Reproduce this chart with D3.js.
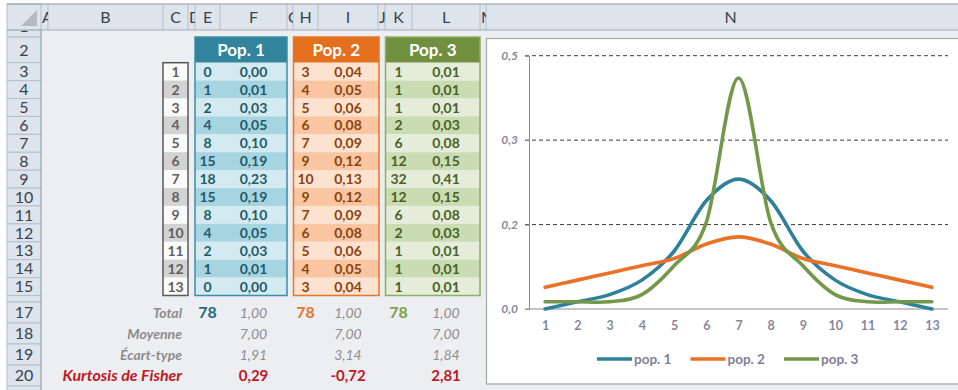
<!DOCTYPE html>
<html>
<head>
<meta charset="utf-8">
<script src="https://cdn.jsdelivr.net/npm/d3@7"></script>
<style>
  body { margin: 0; background: #ffffff; }
  svg { display: block; font-family: Lato, "Open Sans", sans-serif; }
</style>
</head>
<body>
<svg id="sheet" width="958" height="390"></svg>
<script>
// ---- data ----
const categories = [1, 2, 3, 4, 5, 6, 7, 8, 9, 10, 11, 12, 13];
const seriesNames = ["pop. 1", "pop. 2", "pop. 3"];
const headerTitles = ["Pop. 1", "Pop. 2", "Pop. 3"];
const pop1Counts = [0, 1, 2, 4, 8, 15, 18, 15, 8, 4, 2, 1, 0];
const pop2Counts = [3, 4, 5, 6, 7, 9, 10, 9, 7, 6, 5, 4, 3];
const pop3Counts = [1, 1, 1, 2, 6, 12, 32, 12, 6, 2, 1, 1, 1];
// relative frequencies (shown with two decimals in the tables)
const pop1Freq = [0.0000, 0.0128, 0.0256, 0.0513, 0.1026, 0.1923, 0.2308, 0.1923, 0.1026, 0.0513, 0.0256, 0.0128, 0.0000];
const pop2Freq = [0.0385, 0.0513, 0.0641, 0.0769, 0.0897, 0.1154, 0.1282, 0.1154, 0.0897, 0.0769, 0.0641, 0.0513, 0.0385];
const pop3Freq = [0.0128, 0.0128, 0.0128, 0.0256, 0.0769, 0.1538, 0.4103, 0.1538, 0.0769, 0.0256, 0.0128, 0.0128, 0.0128];
const statLabels = ["Total", "Moyenne", "Écart-type", "Kurtosis de Fisher"];
const totals = [78, 78, 78];
const freqTotals = [1.00, 1.00, 1.00];
const means = [7.00, 7.00, 7.00];
const stdDevs = [1.91, 3.14, 1.84];
const kurtosis = [0.29, -0.72, 2.81];
const yTickValues = [0, 0.15, 0.30, 0.45];
const yTickLabels = ["0,0", "0,2", "0,3", "0,5"];
const columnLetters = ["A", "B", "C", "D", "E", "F", "G", "H", "I", "J", "K", "L", "M", "N"];
const rowNumbers = [1, 2, 3, 4, 5, 6, 7, 8, 9, 10, 11, 12, 13, 14, 15, 16, 17, 18, 19, 20, 21];

// ---- styles ----
const palette = [
  { main: "#31849b", text: "#1f5b6b", light: "#d3eaf1", dark: "#a7d4e1", border: "#3a8ea6", total: "#256a80" },
  { main: "#e4701e", text: "#8a4311", light: "#fde2d0", dark: "#fac6a2", border: "#e8762a", total: "#e8752a" },
  { main: "#71903f", text: "#4a6125", light: "#e5edda", dark: "#cadcb2", border: "#8cae62", total: "#7aa14a" }
];
const lineColors = ["#2e809b", "#ea7125", "#73984a"];
const headerFill = "#dde4ec";
const headerLine = "#b4c0cd";
const sheetBg = "#eceef1";

const fr = d3.formatLocale({ decimal: ",", thousands: " ", grouping: [3], currency: ["", " €"], minus: "-" });
const f2 = fr.format(".2f");

const svg = d3.select("#sheet");
const defs = svg.append("defs");

// ---- sheet geometry ----
const colEdges = [41, 48, 163, 188, 195, 220, 287, 293, 318, 378, 385, 412, 480, 486, 975];
const colScale = d3.scaleOrdinal().domain(columnLetters).range(columnLetters.map((_, i) => [colEdges[i], colEdges[i + 1]]));
const col = c => colScale(c);
const colCenter = c => (col(c)[0] + col(c)[1]) / 2;

// row bands: table rows 3..15, hidden row 16, summary rows 17..20
const tableRows = d3.scaleBand().domain(categories).range([62.7, 295.5]);
const statRows = d3.scaleBand().domain(statLabels).range([302, 386]);
const rowBounds = r => {
  if (r === 1) return [16, 37];
  if (r === 2) return [37, 62.7];
  if (r >= 3 && r <= 15) { const y = tableRows(r - 2); return [y, y + tableRows.bandwidth()]; }
  if (r === 16) return [295.5, 302];
  if (r >= 17 && r <= 20) { const y = statRows(statLabels[r - 17]); return [y, y + statRows.bandwidth()]; }
  return [386, 407];
};

// background of cell area
svg.append("rect").attr("x", 41).attr("y", 30).attr("width", 917).attr("height", 360).attr("fill", sheetBg);

defs.append("clipPath").attr("id", "belowHeader")
  .append("rect").attr("x", 0).attr("y", 30).attr("width", 958).attr("height", 360);

// ---- row headers ----
const rowHead = svg.append("g").attr("clip-path", "url(#belowHeader)");
rowNumbers.forEach(r => {
  const [y0, y1] = rowBounds(r);
  rowHead.append("rect").attr("x", 7).attr("y", y0).attr("width", 34).attr("height", y1 - y0)
    .attr("fill", headerFill).attr("stroke", headerLine).attr("stroke-width", 1);
  if (r !== 16) {
    rowHead.append("text").attr("x", 24).attr("y", (y0 + y1) / 2).attr("dy", "0.36em")
      .attr("text-anchor", "middle").attr("font-size", 16).attr("fill", "#39424e").text(r);
  }
});
svg.append("line").attr("x1", 41).attr("x2", 41).attr("y1", 4).attr("y2", 390).attr("stroke", "#9ca9b8");

// ---- column headers ----
svg.append("rect").attr("x", 7).attr("y", 4).attr("width", 951).attr("height", 26).attr("fill", headerFill);
const colHead = svg.append("g");
columnLetters.forEach((c, i) => {
  const [x0, x1] = col(c);
  defs.append("clipPath").attr("id", "colclip" + i)
    .append("rect").attr("x", x0).attr("y", 4).attr("width", x1 - x0).attr("height", 26);
  colHead.append("line").attr("x1", x1).attr("x2", x1).attr("y1", 4).attr("y2", 30).attr("stroke", headerLine);
  const narrow = x1 - x0 < 10;
  colHead.append("text").attr("clip-path", `url(#colclip${i})`)
    .attr("x", narrow ? x0 + 1 : (x0 + x1) / 2).attr("y", 17).attr("dy", "0.36em")
    .attr("text-anchor", narrow ? "start" : "middle").attr("font-size", 16).attr("fill", "#39424e").text(c);
});
svg.append("rect").attr("x", 7).attr("y", 4).attr("width", 34).attr("height", 26).attr("fill", headerFill).attr("stroke", headerLine);
svg.append("path").attr("d", "M21,26 L37,26 L37,10 Z").attr("fill", "#b5bac0");
svg.append("line").attr("x1", 7).attr("x2", 958).attr("y1", 4).attr("y2", 4).attr("stroke", "#8e98a4");
svg.append("line").attr("x1", 7).attr("x2", 958).attr("y1", 30).attr("y2", 30).attr("stroke", "#9ca9b8");

// ---- index column ----
const idx = svg.append("g");
const [cx0, cx1] = [163, 188];
idx.selectAll("rect.cell").data(categories).join("rect")
  .attr("x", cx0).attr("y", d => tableRows(d)).attr("width", cx1 - cx0).attr("height", tableRows.bandwidth())
  .attr("fill", d => d % 2 === 0 ? "#d3d3d3" : "#fafafa");
idx.append("rect").attr("x", cx0).attr("y", tableRows.range()[0]).attr("width", cx1 - cx0)
  .attr("height", tableRows.range()[1] - tableRows.range()[0]).attr("fill", "none").attr("stroke", "#5a5a5a").attr("stroke-width", 1.5);
idx.selectAll("text").data(categories).join("text")
  .attr("x", (cx0 + cx1) / 2).attr("y", d => tableRows(d) + tableRows.bandwidth() / 2).attr("dy", "0.36em")
  .attr("text-anchor", "middle").attr("font-size", 14).attr("font-weight", 700).attr("fill", "#5f5f5f").text(d => d);

// ---- population tables ----
const popCounts = [pop1Counts, pop2Counts, pop3Counts];
const popFreq = [pop1Freq, pop2Freq, pop3Freq];
const popCols = [["E", "F"], ["H", "I"], ["K", "L"]];
const popBoxes = [[195, 287], [293.5, 379], [385.5, 480]];

popCounts.forEach((counts, p) => {
  const g = svg.append("g");
  const pal = palette[p];
  const [bx0, bx1] = popBoxes[p];
  const [ccol, fcol] = popCols[p];
  const top = 37, yStart = tableRows.range()[0], yEnd = tableRows.range()[1];
  g.append("rect").attr("x", bx0).attr("y", top).attr("width", bx1 - bx0).attr("height", yStart - top).attr("fill", pal.main);
  g.selectAll("rect.cell").data(categories).join("rect").attr("class", "cell")
    .attr("x", bx0).attr("y", d => tableRows(d)).attr("width", bx1 - bx0).attr("height", tableRows.bandwidth())
    .attr("fill", d => d % 2 === 0 ? pal.dark : pal.light);
  g.append("rect").attr("x", bx0).attr("y", top).attr("width", bx1 - bx0).attr("height", yEnd - top)
    .attr("fill", "none").attr("stroke", pal.border).attr("stroke-width", 1.5);
  g.append("text").attr("x", (bx0 + bx1) / 2).attr("y", (top + yStart) / 2).attr("dy", "0.36em")
    .attr("text-anchor", "middle").attr("font-size", 17).attr("font-weight", 700).attr("fill", "#ffffff").text(headerTitles[p]);
  g.selectAll("text.count").data(categories).join("text").attr("class", "count")
    .attr("x", colCenter(ccol)).attr("y", d => tableRows(d) + tableRows.bandwidth() / 2).attr("dy", "0.36em")
    .attr("text-anchor", "middle").attr("font-size", 14).attr("font-weight", 700).attr("fill", pal.text)
    .text((d, i) => counts[i]);
  g.selectAll("text.freq").data(categories).join("text").attr("class", "freq")
    .attr("x", colCenter(fcol)).attr("y", d => tableRows(d) + tableRows.bandwidth() / 2).attr("dy", "0.36em")
    .attr("text-anchor", "middle").attr("font-size", 14).attr("font-weight", 700).attr("fill", pal.text)
    .text((d, i) => f2(popFreq[p][i]));

  // summary rows
  const cy = lab => statRows(lab) + statRows.bandwidth() / 2;
  g.append("text").attr("x", colCenter(ccol)).attr("y", cy("Total")).attr("dy", "0.36em").attr("text-anchor", "middle")
    .attr("font-size", 16).attr("font-weight", 700).attr("fill", pal.total).text(totals[p]);
  const grayRows = [["Total", freqTotals], ["Moyenne", means], ["Écart-type", stdDevs]];
  grayRows.forEach(([lab, vals]) => {
    g.append("text").attr("x", colCenter(fcol)).attr("y", cy(lab)).attr("dy", "0.36em").attr("text-anchor", "middle")
      .attr("font-size", 14).attr("font-style", "italic").attr("fill", "#8e8e8e").text(f2(vals[p]));
  });
  g.append("text").attr("x", colCenter(fcol)).attr("y", cy("Kurtosis de Fisher")).attr("dy", "0.36em").attr("text-anchor", "middle")
    .attr("font-size", 15).attr("font-weight", 700).attr("fill", "#c0181f").text(f2(kurtosis[p]));
});

// summary labels
svg.append("g").selectAll("text").data(statLabels).join("text")
  .attr("x", 182).attr("y", d => statRows(d) + statRows.bandwidth() / 2).attr("dy", "0.36em")
  .attr("text-anchor", "end").attr("font-size", d => d === "Kurtosis de Fisher" ? 16 : 14)
  .attr("font-style", "italic").attr("font-weight", 700)
  .attr("fill", d => d === "Kurtosis de Fisher" ? "#c0181f" : "#8c8c8c").text(d => d);

// ---- chart ----
const chart = svg.append("g");
chart.append("rect").attr("x", 486.5).attr("y", 38.5).attr("width", 480).attr("height", 345.5)
  .attr("fill", "#ffffff").attr("stroke", "#a6a6a6").attr("stroke-width", 1.2);

const x = d3.scalePoint().domain(categories).range([529, 948]).padding(0.5);
const y = d3.scaleLinear().domain([0, 0.45]).range([309, 55.7]);
const axisColor = "#86889e";

// gridlines
chart.append("g").selectAll("line").data(yTickValues.filter(v => v > 0)).join("line")
  .attr("x1", 525).attr("x2", 948).attr("y1", d => y(d)).attr("y2", d => y(d))
  .attr("stroke", "#3c3c3c").attr("stroke-width", 1).attr("stroke-dasharray", "4,3");

// y axis
const yAxis = d3.axisLeft(y).tickValues(yTickValues).tickSize(4).tickPadding(7)
  .tickFormat((d, i) => yTickLabels[i]);
const yg = chart.append("g").attr("transform", "translate(529,0)").call(yAxis);
yg.select(".domain").attr("stroke", "#8c8c8c");
yg.selectAll(".tick line").attr("stroke", "#8c8c8c");
yg.selectAll(".tick text").attr("font-family", "Lato, sans-serif").attr("font-size", 12)
  .attr("font-style", "italic").attr("font-weight", 700).attr("fill", axisColor);

// x axis
const xAxis = d3.axisBottom(x).tickSize(0).tickPadding(12);
const xg = chart.append("g").attr("transform", "translate(0,309)").call(xAxis);
xg.select(".domain").attr("stroke", "#8c8c8c").attr("d", "M525,0H948");
xg.selectAll(".tick text").attr("font-family", "Lato, sans-serif").attr("font-size", 12.5)
  .attr("font-weight", 700).attr("fill", axisColor);

// smoothed series lines
const line = d3.line().x((d, i) => x(categories[i])).y(d => y(d)).curve(d3.curveCardinal.tension(0));
popFreq.forEach((vals, p) => {
  chart.append("path").datum(vals).attr("d", line).attr("fill", "none")
    .attr("stroke", lineColors[p]).attr("stroke-width", 3.6)
    .attr("stroke-linejoin", "round").attr("stroke-linecap", "round");
});

// legend
const legendX = d3.scalePoint().domain(seriesNames).range([597, 784]);
const lg = chart.append("g").selectAll("g").data(seriesNames).join("g")
  .attr("transform", d => `translate(${legendX(d)},359)`);
lg.append("line").attr("x1", 0).attr("x2", 35).attr("y1", 0).attr("y2", 0)
  .attr("stroke", (d, i) => lineColors[i]).attr("stroke-width", 3.6);
lg.append("text").attr("x", 37).attr("y", 0).attr("dy", "0.36em").attr("font-size", 13.5)
  .attr("font-weight", 700).attr("fill", "#7e8096").text(d => d);
</script>
</body>
</html>
